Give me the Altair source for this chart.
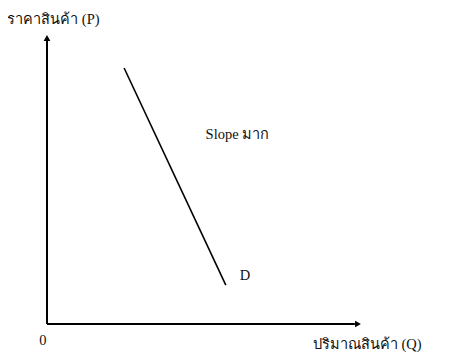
import altair as alt
import pandas as pd

# Axis extents (data units)
axis_q_max = [10.0]
axis_p_max = [10.0]

# Demand curve D (quantity, price)
demand_q = [2.48, 5.75]
demand_p = [8.95, 1.36]

# Text labels
label_text = ["Slope  มาก", "D", "0", "ราคาสินค้า (P)", "ปริมาณสินค้า (Q)"]
label_q = [5.1, 6.2, -0.25, -1.28, 8.55]
label_p = [6.6, 1.68, -0.6, 10.62, -0.73]

xdom = [-1.254, 12.894]
ydom = [-0.979, 11.049]
xs = alt.Scale(domain=xdom, nice=False, zero=False)
ys = alt.Scale(domain=ydom, nice=False, zero=False)

axes_df = pd.DataFrame({
    "q": [0.0, 0.0], "q2": [0.0, axis_q_max[0] - 0.1],
    "p": [0.0, 0.0], "p2": [axis_p_max[0] - 0.1, 0.0],
})
axes = alt.Chart(axes_df).mark_rule(color="black", strokeWidth=2).encode(
    x=alt.X("q:Q", scale=xs, axis=None), x2="q2",
    y=alt.Y("p:Q", scale=ys, axis=None), y2="p2",
)

heads_df = pd.DataFrame({
    "q": [0.0, axis_q_max[0]], "p": [axis_p_max[0], 0.0],
    "shape": ["triangle-up", "triangle-right"],
})
heads = alt.Chart(heads_df).mark_point(filled=True, color="black", size=45, opacity=1).encode(
    x=alt.X("q:Q", scale=xs, axis=None),
    y=alt.Y("p:Q", scale=ys, axis=None),
    shape=alt.Shape("shape:N", scale=None, legend=None),
)

dem_df = pd.DataFrame({"q": demand_q, "p": demand_p})
demand = alt.Chart(dem_df).mark_line(color="black", strokeWidth=1.6).encode(
    x=alt.X("q:Q", scale=xs, axis=None),
    y=alt.Y("p:Q", scale=ys, axis=None),
)

lab_df = pd.DataFrame({"t": label_text, "q": label_q, "p": label_p})
labels = alt.Chart(lab_df).mark_text(
    align="left", baseline="middle", font="Liberation Serif", fontSize=14.5, color="#111"
).encode(
    x=alt.X("q:Q", scale=xs, axis=None),
    y=alt.Y("p:Q", scale=ys, axis=None),
    text="t:N",
)

chart = alt.layer(axes, demand, heads, labels).properties(
    width=440, height=344, padding=0, autosize=alt.AutoSizeParams(type="none"),
    background="white",
).configure_view(stroke=None)

chart.save("out.html", embed_options={"renderer": "svg", "actions": False})
